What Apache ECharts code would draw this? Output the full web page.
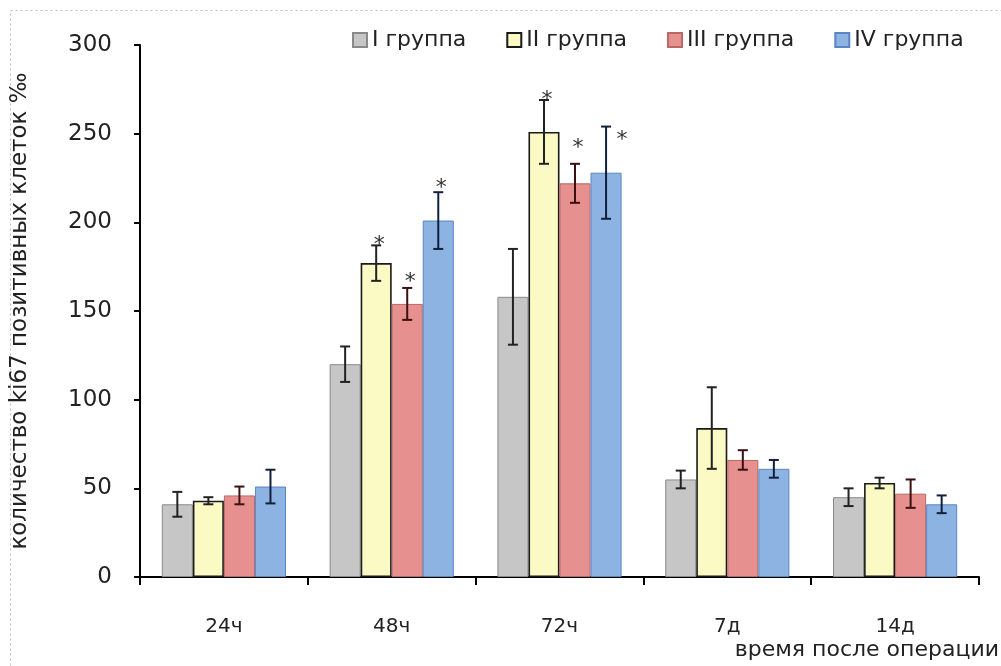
<!DOCTYPE html>
<html><head><meta charset="utf-8">
<script src="https://cdn.jsdelivr.net/npm/echarts@6/dist/echarts.min.js"></script>
<style>html,body{margin:0;padding:0;background:#fff}#c{width:1001px;height:666px}</style>
</head><body><div id="c"></div>
<script>
var categories = ['24ч', '48ч', '72ч', '7д', '14д'];
var groupNames = ['I группа', 'II группа', 'III группа', 'IV группа'];
var group1 = [41, 120, 158, 55, 45];
var group2 = [43, 177, 251, 84, 53];
var group3 = [46, 154, 222, 66, 47];
var group4 = [51, 201, 228, 61, 41];
var err1 = [7, 10, 27, 5, 5];
var err2 = [2, 10, 18, 23, 3];
var err3 = [5, 9, 11, 5.5, 8];
var err4 = [9.5, 16, 26, 5, 5];
var yTicks = [0, 50, 100, 150, 200, 250, 300];
// asterisks: [category index, group index, value]
var asterisks = [[1, 1, 187], [1, 2, 166], [1, 3, 219], [2, 1, 269], [2, 2, 242], [2, 3, 246]];

var values = [group1, group2, group3, group4];
var errs = [err1, err2, err3, err4];
var fills = ['#c6c6c6', '#fbf9c4', '#e6918f', '#8db3e2'];
var borders = ['#8a8a8a', '#1a1a1a', '#b86866', '#5a86c0'];
var errColors = ['#222', '#222', '#3a1010', '#10203c'];
var BW = 0.185; // bar width fraction of category

var series = [];
values.forEach(function (v, i) {
  series.push({
    name: groupNames[i], type: 'bar', data: v, barWidth: (BW * 100) + '%', barGap: '0%',
    itemStyle: { color: fills[i], borderColor: borders[i], borderWidth: i === 1 ? 1.6 : 1 },
    z: 2
  });
});
values.forEach(function (v, i) {
  series.push({
    type: 'custom', silent: true, z: 5,
    data: v.map(function (val, k) { return [k, val - errs[i][k], val + errs[i][k]]; }),
    renderItem: function (params, api) {
      var cat = api.value(0);
      var lo = api.coord([cat, api.value(1)]);
      var hi = api.coord([cat, api.value(2)]);
      var cw = api.size([1, 0])[0];
      var x = lo[0] + (i - 1.5) * cw * BW;
      var c = 5;
      var st = { stroke: errColors[i], lineWidth: 2 };
      return { type: 'group', children: [
        { type: 'line', shape: { x1: x, y1: lo[1], x2: x, y2: hi[1] }, style: st },
        { type: 'line', shape: { x1: x - c, y1: lo[1], x2: x + c, y2: lo[1] }, style: st },
        { type: 'line', shape: { x1: x - c, y1: hi[1], x2: x + c, y2: hi[1] }, style: st }
      ] };
    }
  });
});
series.push({
  type: 'custom', silent: true, z: 6,
  data: asterisks,
  renderItem: function (params, api) {
    var cat = api.value(0), g = api.value(1);
    var p = api.coord([cat, api.value(2)]);
    var cw = api.size([1, 0])[0];
    var x = p[0] + (g - 1.5) * cw * BW;
    if (cat === 2 && g === 3) x += 16;
    else x += 3;
    return { type: 'text', x: x, y: p[1], style: { text: '*', fill: '#333', font: '22px "DejaVu Sans"', align: 'center', verticalAlign: 'middle' } };
  }
});

var chart = echarts.init(document.getElementById('c'));
chart.setOption({
  animation: false,
  backgroundColor: '#fff',
  textStyle: { fontFamily: 'DejaVu Sans' },
  grid: { left: 140, right: 22, top: 45, bottom: 89, containLabel: false },
  legend: {
    data: groupNames, left: 352, top: 29, itemWidth: 14, itemHeight: 14, itemGap: 40, padding: 0,
    textStyle: { fontSize: 22, color: '#222', fontFamily: 'DejaVu Sans' },
    icon: 'rect'
  },
  xAxis: {
    type: 'category', data: categories,
    axisLine: { lineStyle: { color: '#000', width: 2 } },
    axisTick: { show: true, length: 8, lineStyle: { color: '#000', width: 2 } },
    axisLabel: { fontSize: 20, color: '#222', margin: 40 }
  },
  yAxis: {
    type: 'value', min: 0, max: 300, interval: 50,
    name: 'количество ki67 позитивных клеток ‰', nameLocation: 'middle', nameGap: 108, nameRotate: 90,
    nameTextStyle: { fontSize: 23, color: '#222' },
    axisLine: { show: true, lineStyle: { color: '#000', width: 2 } },
    axisTick: { show: true, length: 6, lineStyle: { color: '#000', width: 2 } },
    splitLine: { show: false },
    axisLabel: { fontSize: 23, color: '#222', margin: 28,
      formatter: function (v) { return yTicks.indexOf(v) >= 0 ? String(v) : ''; } }
  },
  graphic: [
    { type: 'rect', left: 8, top: 8, shape: { width: 1010, height: 680 }, style: { fill: 'none', stroke: '#bbb', lineDash: [2, 3], lineWidth: 1 }, silent: true },
    { type: 'text', right: 2, top: 639, style: { text: 'время после операции', fill: '#222', font: '22px "DejaVu Sans"' } }
  ],
  series: series
});
</script></body></html>
